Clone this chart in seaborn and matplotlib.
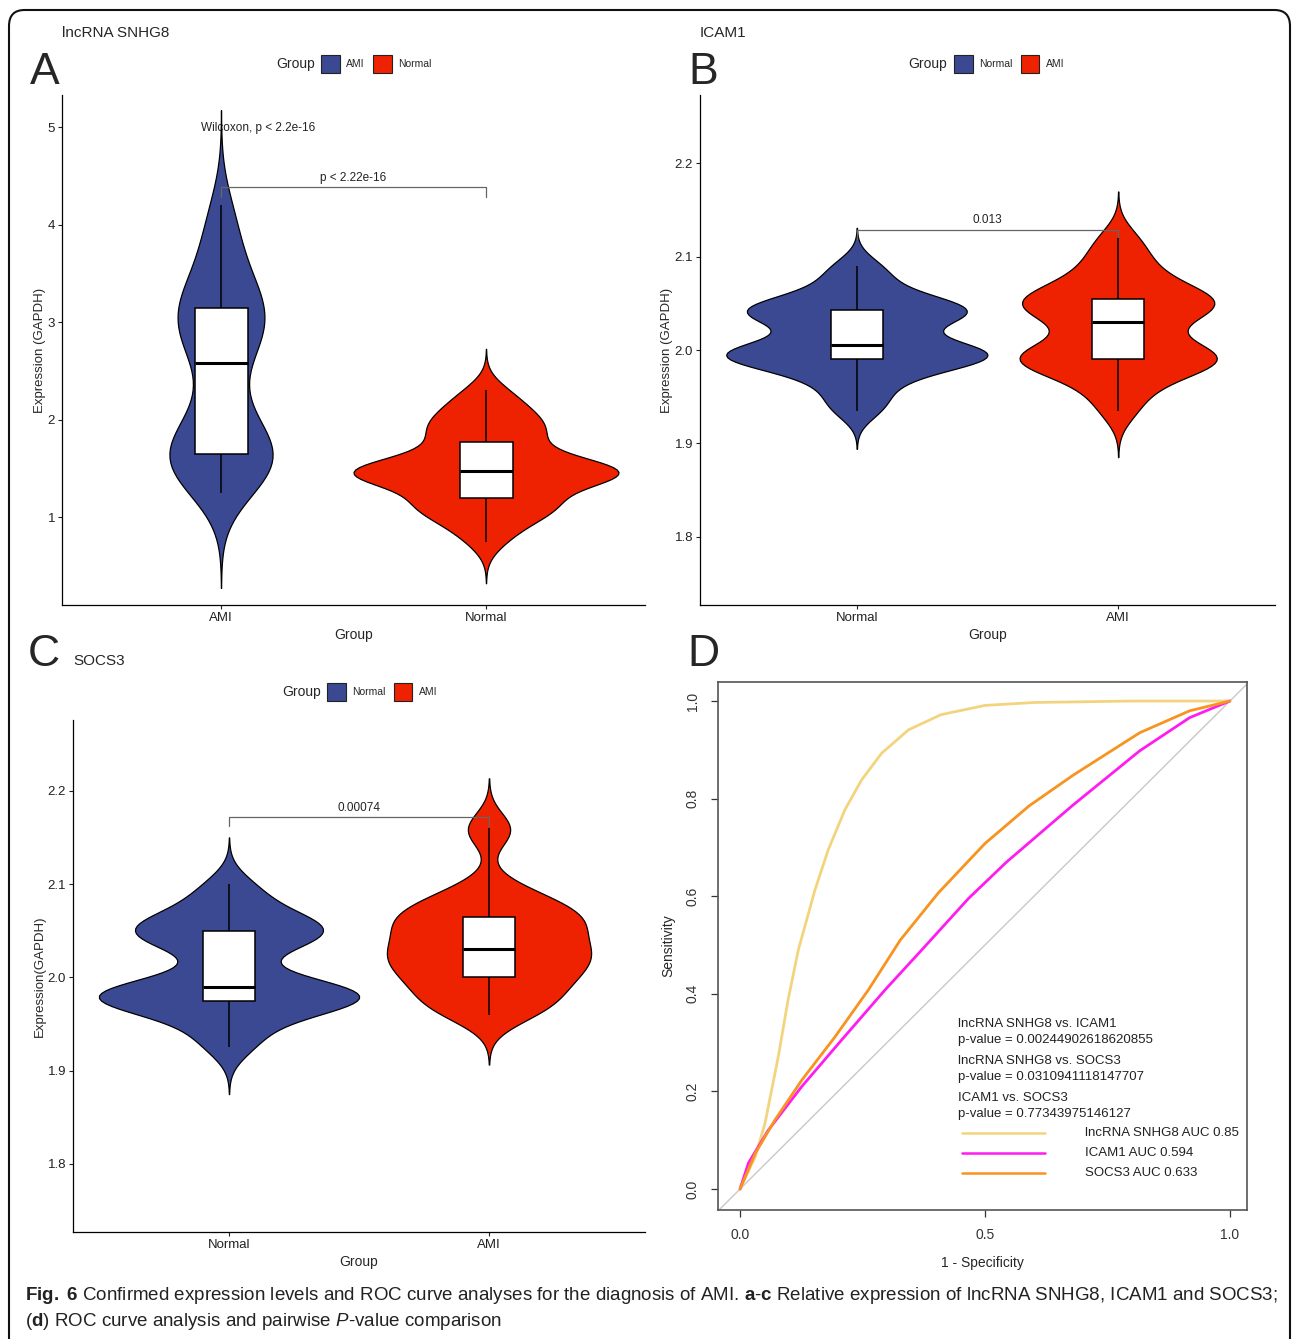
import matplotlib
matplotlib.use("Agg")
import matplotlib.pyplot as plt
from matplotlib.patches import FancyBboxPatch, Patch
import seaborn as sns
import pandas as pd

snhg8_ami = [1.25, 1.34, 1.42, 1.49, 1.55, 1.6, 1.63, 1.65, 1.7, 1.77, 1.86, 1.97, 2.1, 2.28,
             2.58, 2.68, 2.78, 2.87, 2.95, 3.02, 3.09, 3.15, 3.22, 3.3, 3.42, 3.58, 3.75,
             3.95, 4.2]
snhg8_normal = [0.75, 0.88, 0.97, 1.03, 1.08, 1.12, 1.15, 1.18, 1.2, 1.32, 1.39, 1.42, 1.43,
                1.44, 1.45, 1.46, 1.47, 1.47, 1.48, 1.49, 1.51, 1.55, 1.62, 1.7, 1.77, 1.83,
                1.88, 1.93, 1.98, 2.04, 2.1, 2.2, 2.3]
icam1_normal = [1.935, 1.95, 1.965, 1.975, 1.982, 1.987, 1.99, 1.993, 1.995, 1.997, 1.999,
                2.002, 2.005, 2.015, 2.027, 2.033, 2.037, 2.04, 2.043, 2.045, 2.048, 2.053,
                2.062, 2.076, 2.09]
icam1_ami = [1.935, 1.955, 1.968, 1.978, 1.984, 1.987, 1.99, 1.992, 1.995, 1.998, 2.004,
             2.016, 2.03, 2.036, 2.042, 2.046, 2.05, 2.053, 2.055, 2.06, 2.067, 2.076, 2.088,
             2.102, 2.12]
socs3_normal = [1.925, 1.94, 1.955, 1.965, 1.97, 1.973, 1.975, 1.978, 1.981, 1.984, 1.986,
                1.988, 1.99, 2.0, 2.025, 2.037, 2.042, 2.046, 2.05, 2.053, 2.057, 2.062,
                2.072, 2.085, 2.1]
socs3_ami = [1.96, 1.963, 1.969, 1.976, 1.983, 1.99, 1.996, 2.0, 2.006, 2.011, 2.016, 2.02,
             2.024, 2.027, 2.03, 2.036, 2.042, 2.048, 2.053, 2.058, 2.062, 2.065, 2.069,
             2.074, 2.08, 2.087, 2.096, 2.157, 2.16]

# ROC curves
fpr_snhg8 = [0, 0.031, 0.051, 0.078, 0.098, 0.119, 0.153, 0.180, 0.214, 0.248, 0.289, 0.344,
             0.41, 0.5, 0.6, 0.8, 1.0]
tpr_snhg8 = [0, 0.066, 0.135, 0.271, 0.387, 0.49, 0.613, 0.695, 0.777, 0.838, 0.893, 0.941,
             0.972, 0.991, 0.997, 1.0, 1.0]
fpr_icam1 = [0, 0.017, 0.058, 0.126, 0.207, 0.296, 0.371, 0.466, 0.544, 0.68, 0.816, 0.918, 1.0]
tpr_icam1 = [0, 0.053, 0.121, 0.21, 0.305, 0.408, 0.49, 0.595, 0.67, 0.787, 0.898, 0.966, 1.0]
fpr_socs3 = [0, 0.031, 0.071, 0.126, 0.194, 0.262, 0.327, 0.405, 0.5, 0.59, 0.68, 0.816,
             0.918, 1.0]
tpr_socs3 = [0, 0.073, 0.141, 0.223, 0.312, 0.408, 0.51, 0.607, 0.708, 0.785, 0.848, 0.935,
             0.98, 1.0]

BLUE = "#3B4992"
RED = "#EE2200"
YELLOW = "#F3D47E"
MAGENTA = "#FF1CF0"
ORANGE = "#F7931E"
W, H = 1292, 1339

sns.set_theme(style="ticks")
plt.rcParams["font.family"] = ["Liberation Sans", "DejaVu Sans"]
plt.rcParams["mathtext.fontset"] = "custom"
plt.rcParams["mathtext.rm"] = "Liberation Sans"
plt.rcParams["mathtext.bf"] = "Liberation Sans:bold"
plt.rcParams["mathtext.it"] = "Liberation Sans:italic"

fig = plt.figure(figsize=(W / 100, H / 100), dpi=100)


def px_axes(l, t, r, b):
    return fig.add_axes([l / W, 1 - b / H, (r - l) / W, (b - t) / H])


def ftext(x, y, s, **kw):
    return fig.text(x / W, 1 - y / H, s, **kw)


def violin_panel(ax, a, b, order, ylim, yticks, ylabel, bw=0.35):
    df = pd.DataFrame({"Group": [order[0]] * len(a) + [order[1]] * len(b),
                       "Expression": a + b})
    sns.violinplot(data=df, x="Group", y="Expression", hue="Group", order=order,
                   hue_order=order, palette=[BLUE, RED], saturation=1, inner=None,
                   cut=3, bw_method=bw, width=1.0, linewidth=0.9, linecolor="black",
                   density_norm="area", common_norm=True, legend=False, ax=ax)
    sns.boxplot(data=df, x="Group", y="Expression", order=order, width=0.2,
                color="white", linecolor="black", linewidth=1.1, showfliers=False,
                showcaps=False, saturation=1, medianprops=dict(linewidth=2.2), ax=ax)
    ax.set_xlim(-0.6, 1.6)
    ax.set_ylim(*ylim)
    ax.set_yticks(yticks)
    sns.despine(ax=ax)
    for s in ["left", "bottom"]:
        ax.spines[s].set_linewidth(0.9)
        ax.spines[s].set_color("black")
    ax.tick_params(length=3, width=0.8, colors="#222222", labelsize=9.5, pad=2)
    ax.set_xlabel("Group", fontsize=10, labelpad=3)
    ax.set_ylabel(ylabel, fontsize=9.5, labelpad=1)


def bracket(ax, x0, x1, y, drop, label):
    ax.plot([x0, x0, x1, x1], [y - drop, y, y, y - drop], color="#666666", lw=0.9, zorder=1)
    ax.text((x0 + x1) / 2, y + drop * 0.35, label, ha="center", va="bottom", fontsize=8.5,
            color="#222222")


def legend_row(x_group, y, x_leg, labels):
    ftext(x_group, y, "Group", fontsize=10, va="center", ha="left")
    handles = [Patch(facecolor=BLUE, edgecolor="#222222", lw=0.8),
               Patch(facecolor=RED, edgecolor="#222222", lw=0.8)]
    fig.legend(handles, labels, loc="center left", bbox_to_anchor=(x_leg / W, 1 - y / H),
               ncol=2, frameon=False, fontsize=7.5, handlelength=1.8, handleheight=2.4,
               handletextpad=0.6, columnspacing=0.8, borderpad=0, borderaxespad=0)


# panel A
axA = px_axes(62, 95, 645, 605)
violin_panel(axA, snhg8_ami, snhg8_normal, ["AMI", "Normal"], (0.1, 5.33),
             [1, 2, 3, 4, 5], "Expression (GAPDH)", bw=0.37)
bracket(axA, 0, 1, 4.385, 0.1, "p < 2.22e-16")
axA.text(0.14, 4.99, "Wilcoxon, p < 2.2e-16", ha="center", va="center", fontsize=8.5,
         color="#222222", zorder=0)

# panel B
axB = px_axes(700, 95, 1275, 605)
violin_panel(axB, icam1_normal, icam1_ami, ["Normal", "AMI"], (1.727, 2.273),
             [1.8, 1.9, 2.0, 2.1, 2.2], "Expression (GAPDH)")
bracket(axB, 0, 1, 2.129, 0.01, "0.013")

# panel C
axC = px_axes(73, 720, 645, 1232)
violin_panel(axC, socs3_normal, socs3_ami, ["Normal", "AMI"], (1.727, 2.276),
             [1.8, 1.9, 2.0, 2.1, 2.2], "Expression(GAPDH)")
bracket(axC, 0, 1, 2.172, 0.01, "0.00074")

# panel D: ROC
axD = px_axes(718, 682, 1247, 1210)
axD.plot([-0.1, 1.1], [-0.1, 1.1], color="#c8c8c8", lw=1, zorder=1)
sns.lineplot(x=fpr_snhg8, y=tpr_snhg8, color=YELLOW, lw=2, ax=axD, sort=False)
sns.lineplot(x=fpr_icam1, y=tpr_icam1, color=MAGENTA, lw=2, ax=axD, sort=False)
sns.lineplot(x=fpr_socs3, y=tpr_socs3, color=ORANGE, lw=2, ax=axD, sort=False)
axD.set_xlim(-0.045, 1.035)
axD.set_ylim(-0.043, 1.039)
axD.set_xticks([0, 0.5, 1.0])
axD.set_xticklabels(["0.0", "0.5", "1.0"])
axD.set_yticks([0, 0.2, 0.4, 0.6, 0.8, 1.0])
axD.set_yticklabels(["0.0", "0.2", "0.4", "0.6", "0.8", "1.0"], rotation=90, va="center")
for s in axD.spines.values():
    s.set_linewidth(1.2)
    s.set_color("#555555")
axD.tick_params(length=5, width=0.9, colors="#333333", labelsize=10, pad=8)
axD.set_xlabel("1 - Specificity", fontsize=10, labelpad=10)
axD.set_ylabel("Sensitivity", fontsize=10, labelpad=8)

pv_lines = [("lncRNA SNHG8 vs. ICAM1", 1024), ("p-value = 0.00244902618620855", 1040),
            ("lncRNA SNHG8 vs. SOCS3", 1061), ("p-value = 0.0310941118147707", 1077),
            ("ICAM1 vs. SOCS3", 1098), ("p-value = 0.77343975146127", 1114)]
for s, y in pv_lines:
    ftext(958, y, s, fontsize=9.5, va="center", color="#222222")
for s, y, c in [("lncRNA SNHG8 AUC 0.85", 1133, YELLOW),
                ("ICAM1 AUC 0.594", 1153, MAGENTA),
                ("SOCS3 AUC 0.633", 1173, ORANGE)]:
    fig.add_artist(plt.Line2D([962 / W, 1045 / W], [1 - y / H, 1 - y / H], color=c, lw=1.8))
    ftext(1085, y, s, fontsize=9.5, va="center", color="#222222")

# titles, panel letters, legends
ftext(62, 33, "lncRNA SNHG8", fontsize=11, va="center")
ftext(700, 33, "ICAM1", fontsize=11, va="center")
ftext(73, 661, "SOCS3", fontsize=11, va="center")
for s, x, y in [("A", 45, 72), ("B", 703, 72), ("C", 44, 655), ("D", 703, 655)]:
    ftext(x, y, s, fontsize=32, ha="center", va="center")
legend_row(276, 64, 321, ["AMI", "Normal"])
legend_row(908, 64, 954, ["Normal", "AMI"])
legend_row(282, 692, 327, ["Normal", "AMI"])

# caption
ftext(25, 1295, r"$\mathbf{Fig.\ 6}$ Confirmed expression levels and ROC curve analyses for the "
      r"diagnosis of AMI. $\mathbf{a}$-$\mathbf{c}$ Relative expression of lncRNA SNHG8, "
      r"ICAM1 and SOCS3;", fontsize=13.5, va="center", color="#222222")
ftext(25, 1321, r"($\mathbf{d}$) ROC curve analysis and pairwise $P$-value comparison",
      fontsize=13.5, va="center", color="#222222")

# rounded frame
fig.add_artist(FancyBboxPatch((9 / W, -0.02), 1281 / W, 1 - 10 / H + 0.02,
                              boxstyle="round,pad=0,rounding_size=0.012",
                              transform=fig.transFigure, fill=False, ec="#111111", lw=1.5))

fig.savefig("out.png", dpi=100)
